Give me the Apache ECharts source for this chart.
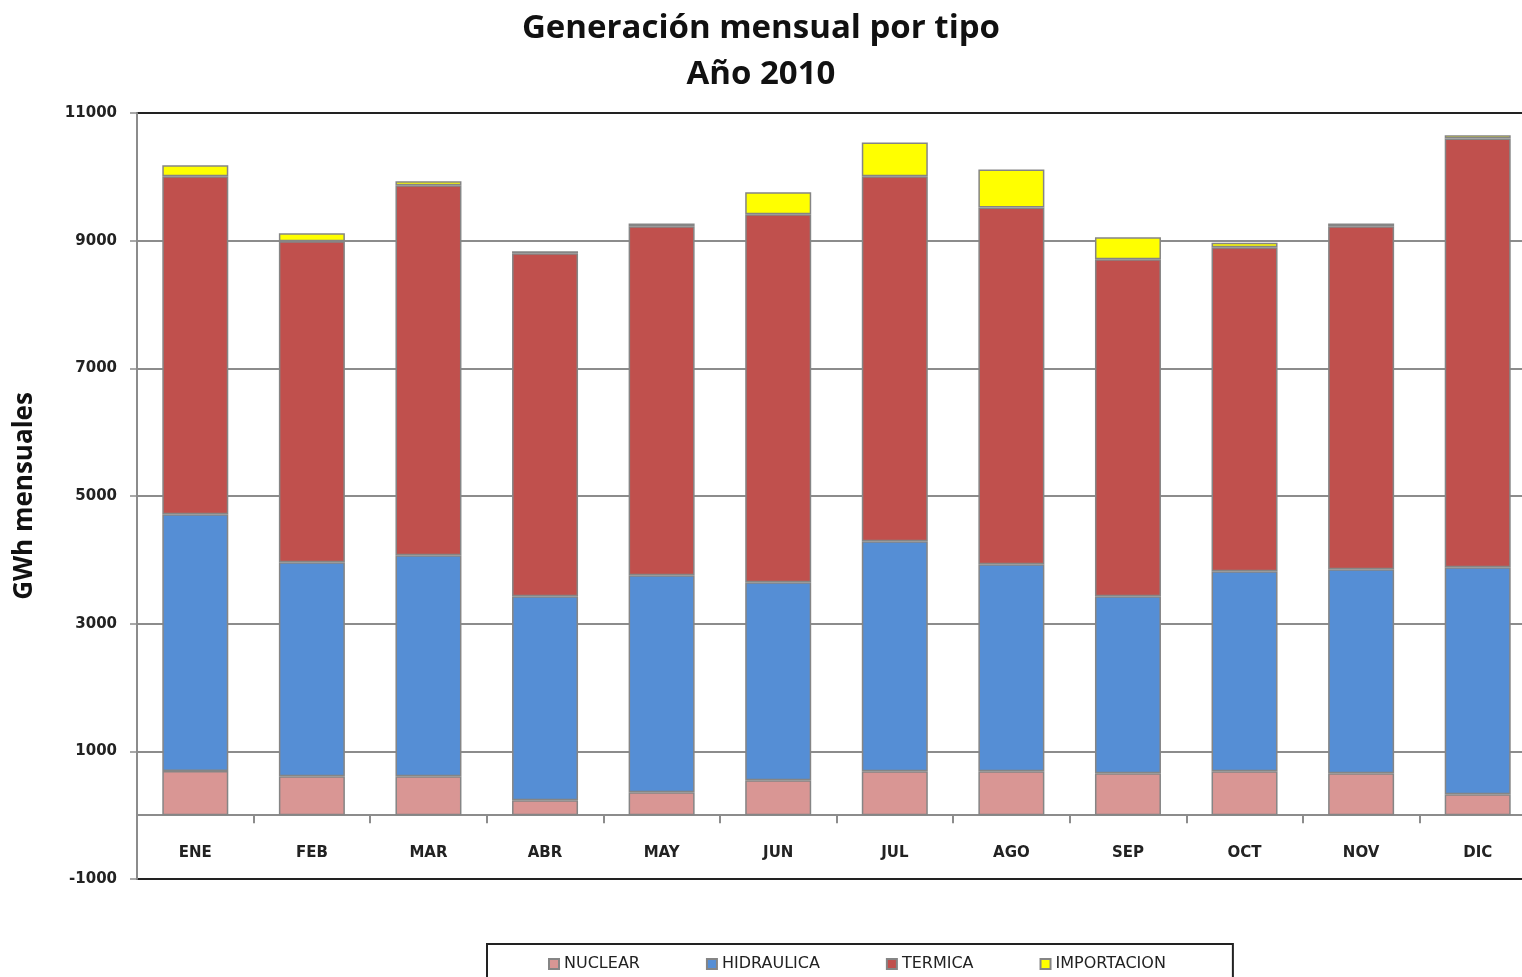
<!DOCTYPE html>
<html>
<head>
<meta charset="utf-8">
<script src="https://cdn.jsdelivr.net/npm/echarts@6/dist/echarts.min.js"></script>
<style>
html,body{margin:0;padding:0;background:#fff;overflow:hidden;}
#chart{width:1522px;height:977px;}
</style>
</head>
<body>
<div id="chart"></div>
<script>
const months = ['ENE','FEB','MAR','ABR','MAY','JUN','JUL','AGO','SEP','OCT','NOV','DIC'];
const nuclear = [690, 611, 611, 235, 360, 548, 689, 689, 658, 689, 658, 329];
const hidraulica = [4026, 3353, 3462, 3196, 3400, 3102, 3604, 3243, 2773, 3134, 3196, 3556];
const termica = [5295, 5028, 5797, 5373, 5467, 5765, 5718, 5588, 5279, 5075, 5373, 6716];
const importacion = [172, 126, 62, 30, 40, 345, 527, 596, 345, 68, 40, 50];
const seriesNames = ['NUCLEAR','HIDRAULICA','TERMICA','IMPORTACION'];
const seriesColors = ['#D99694','#558ED5','#C0504D','#FFFF00'];
const seriesData = [nuclear, hidraulica, termica, importacion];

const chart = echarts.init(document.getElementById('chart'), null, {renderer:'canvas'});
const option = {
  animation: false,
  backgroundColor: '#ffffff',
  title: {
    text: 'Generación mensual por tipo\nAño 2010',
    left: 'center',
    top: 1,
    textStyle: {
      fontFamily: 'Open Sans',
      fontWeight: 'bold',
      fontSize: 33,
      lineHeight: 46,
      color: '#111'
    }
  },
  legend: {
    left: 487,
    top: 944,
    padding: [12, 67, 14, 61],
    itemGap: 66,
    itemWidth: 10,
    itemHeight: 10,
    borderColor: '#222',
    borderWidth: 2,
    icon: 'rect',
    data: seriesNames,
    textStyle: {
      fontFamily: 'DejaVu Sans',
      fontSize: 16,
      color: '#222'
    }
  },
  grid: {
    left: 137,
    top: 113,
    width: 1399,
    height: 766,
    outerBoundsMode: 'none',
    containLabel: false,
    show: true,
    borderColor: '#222',
    borderWidth: 2,
    backgroundColor: 'transparent'
  },
  xAxis: {
    type: 'category',
    data: months,
    axisLine: { onZero: true, lineStyle: { color: '#8c8c8c', width: 2 } },
    axisTick: { show: true, alignWithLabel: false, length: 8, lineStyle: { color: '#8c8c8c', width: 2 } },
    axisLabel: {
      margin: -33,
      fontFamily: 'DejaVu Sans',
      fontWeight: 'bold',
      fontSize: 15,
      color: '#222'
    }
  },
  yAxis: {
    type: 'value',
    min: -1000,
    max: 11000,
    interval: 2000,
    name: 'GWh mensuales',
    nameLocation: 'middle',
    nameRotate: 90,
    nameGap: 99,
    nameTextStyle: {
      fontFamily: 'Open Sans',
      fontWeight: 'bold',
      fontSize: 26,
      color: '#111'
    },
    axisLine: { show: true, lineStyle: { color: '#8c8c8c', width: 2 } },
    axisTick: { show: true, length: 7, lineStyle: { color: '#8c8c8c', width: 1.5 } },
    axisLabel: {
      margin: 20,
      fontFamily: 'DejaVu Sans',
      fontWeight: 'bold',
      fontSize: 15,
      color: '#222',
      formatter: v => String(v)
    },
    splitLine: {
      show: true,
      lineStyle: {
        color: ['#222222', '#8c8c8c', '#8c8c8c', '#8c8c8c', '#8c8c8c', '#8c8c8c', '#222222'],
        width: 2
      }
    }
  },
  series: seriesNames.map((n, i) => ({
    name: n,
    type: 'bar',
    stack: 'total',
    barWidth: 66,
    data: seriesData[i],
    itemStyle: {
      color: seriesColors[i],
      borderColor: '#858585',
      borderWidth: 1.5
    }
  }))
};
chart.setOption(option);
</script>
</body>
</html>
